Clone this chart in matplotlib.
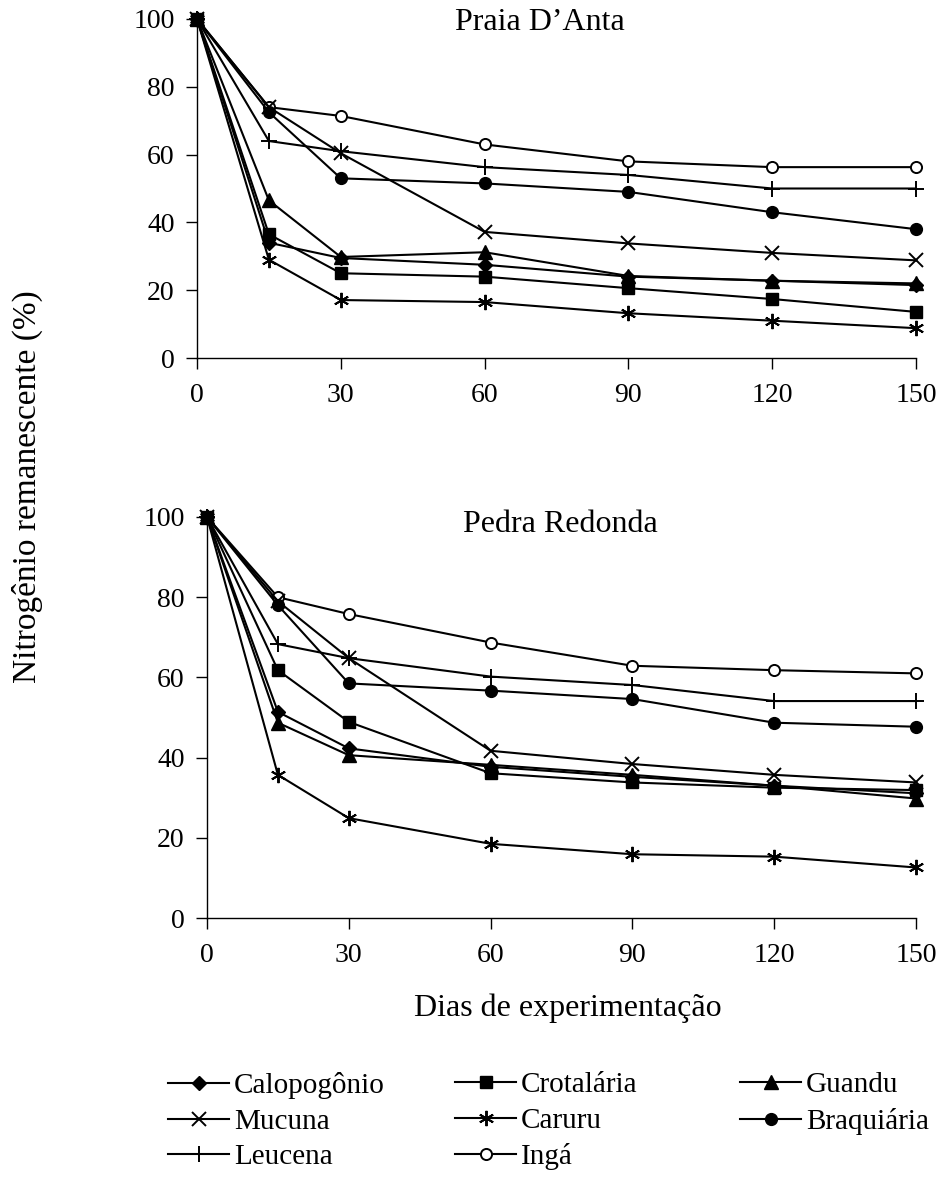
import matplotlib
matplotlib.use("Agg")
import matplotlib.pyplot as plt
from matplotlib.lines import Line2D

plt.rcParams['font.family'] = ['Liberation Serif', 'DejaVu Serif']

days = [0, 15, 30, 60, 90, 120, 150]
species = ["Calopogônio", "Crotalária", "Guandu", "Mucuna", "Caruru",
           "Braquiária", "Leucena", "Ingá"]

# Praia D'Anta
pa_calopogonio = [100, 34.0, 29.5, 27.5, 24.0, 22.8, 21.5]
pa_crotalaria  = [100, 36.5, 25.0, 24.0, 20.6, 17.4, 13.6]
pa_guandu      = [100, 46.5, 29.8, 31.2, 24.2, 22.8, 22.0]
pa_mucuna      = [100, 74.0, 60.4, 37.2, 33.8, 31.0, 28.8]
pa_caruru      = [100, 29.0, 17.1, 16.5, 13.2, 11.0, 8.8]
pa_braquiaria  = [100, 72.5, 53.0, 51.5, 49.0, 43.0, 38.0]
pa_leucena     = [100, 64.0, 61.0, 56.3, 54.0, 50.0, 50.0]
pa_inga        = [100, 74.0, 71.4, 63.0, 58.0, 56.3, 56.3]

# Pedra Redonda
pr_calopogonio = [100, 51.4, 42.3, 37.7, 35.2, 33.0, 31.1]
pr_crotalaria  = [100, 61.8, 48.9, 36.1, 33.8, 32.5, 31.9]
pr_guandu      = [100, 48.7, 40.6, 38.2, 35.7, 33.0, 29.8]
pr_mucuna      = [100, 79.0, 64.8, 41.7, 38.4, 35.7, 33.8]
pr_caruru      = [100, 35.7, 24.9, 18.5, 15.9, 15.3, 12.6]
pr_braquiaria  = [100, 78.0, 58.5, 56.7, 54.6, 48.7, 47.7]
pr_leucena     = [100, 68.3, 64.8, 60.2, 58.1, 54.1, 54.1]
pr_inga        = [100, 80.0, 75.8, 68.7, 62.9, 61.8, 61.0]

panels = [
    ("Praia D\u2019Anta", [pa_calopogonio, pa_crotalaria, pa_guandu, pa_mucuna,
                           pa_caruru, pa_braquiaria, pa_leucena, pa_inga]),
    ("Pedra Redonda", [pr_calopogonio, pr_crotalaria, pr_guandu, pr_mucuna,
                       pr_caruru, pr_braquiaria, pr_leucena, pr_inga]),
]

markers = {
    "Calopogônio": dict(marker="D", markersize=7.5, mfc="black"),
    "Crotalária": dict(marker="s", markersize=8.5, mfc="black"),
    "Guandu": dict(marker="^", markersize=9.5, mfc="black"),
    "Mucuna": dict(marker="x", markersize=10, mfc="black", mew=1.4),
    "Caruru": dict(marker=(6, 2, 0), markersize=11, mfc="black", mew=1.4),
    "Braquiária": dict(marker="o", markersize=8.5, mfc="black"),
    "Leucena": dict(marker="+", markersize=11, mfc="black", mew=1.4),
    "Ingá": dict(marker="o", markersize=8, mfc="white", mew=1.4),
}

W, H = 942, 1184
fig = plt.figure(figsize=(W / 100, H / 100), dpi=100)

def px_axes(left, right, top, bottom):
    return fig.add_axes([left / W, 1 - bottom / H, (right - left) / W, (bottom - top) / H])

boxes = [(197, 916, 19, 358), (207, 916, 517, 918)]
# title centre in pixels (x, y)
title_pos = [(540, 22), (560, 524)]
TICK_FS = 20
TEXT_FS = 23
LW = 1.5

for (title, series), box, (tx, ty) in zip(panels, boxes, title_pos):
    ax = px_axes(*box)
    # draw in reverse order so the first series sits on top (as in the original)
    for name, vals in reversed(list(zip(species, series))):
        ax.plot(days, vals, color="black", lw=LW, clip_on=False, zorder=3,
                mec="black", **markers[name])
    ax.set_xlim(0, 150)
    ax.set_ylim(0, 100)
    ax.set_xticks([0, 30, 60, 90, 120, 150])
    ax.set_yticks([0, 20, 40, 60, 80, 100])
    for s in ("top", "right"):
        ax.spines[s].set_visible(False)
    for s in ("left", "bottom"):
        ax.spines[s].set_linewidth(1.0)
    ax.tick_params(direction="out", length=8, width=1.0, labelsize=TICK_FS)
    ax.tick_params(axis="y", pad=8)
    ax.tick_params(axis="x", pad=10)
    fig.text(tx / W, 1 - ty / H, title, ha="center", va="center", fontsize=TEXT_FS)

fig.text(27 / W, 1 - 487 / H, "Nitrogênio remanescente (%)", rotation=90,
         ha="center", va="center", fontsize=24)
fig.text(568 / W, 1 - 1008 / H, "Dias de experimentação", ha="center",
         va="center", fontsize=TEXT_FS)

handles = {name: Line2D([], [], color="black", lw=LW, mec="black", **markers[name])
           for name in species}
columns = [(168, ["Calopogônio", "Mucuna", "Leucena"]),
           (455, ["Crotalária", "Caruru", "Ingá"]),
           (740, ["Guandu", "Braquiária"])]
for cx, names in columns:
    fig.legend([handles[n] for n in names], names, ncol=1, frameon=False,
               fontsize=21, loc="upper left", bbox_to_anchor=(cx / W, 1 - 1072 / H),
               handlelength=2.1, handletextpad=0.17, labelspacing=0.32,
               borderaxespad=0, borderpad=0)

fig.savefig("out.png", dpi=100)
